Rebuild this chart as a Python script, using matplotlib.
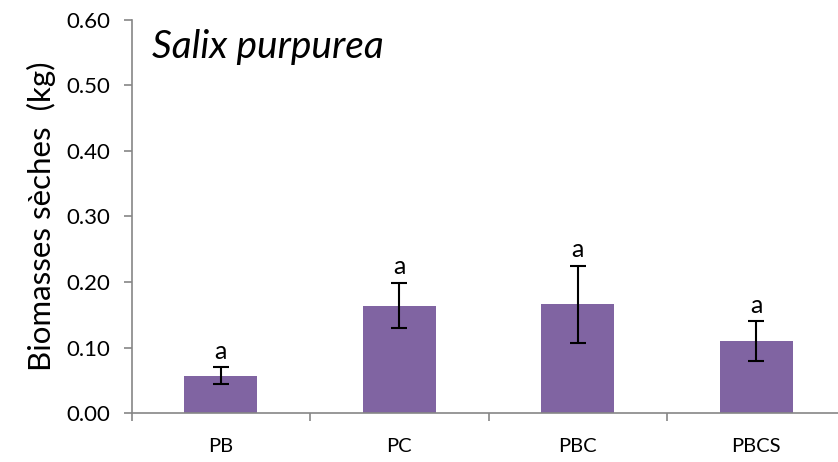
import numpy as np
import matplotlib
matplotlib.use("Agg")
import matplotlib.pyplot as plt

plt.rcParams['font.family'] = ['Lato', 'DejaVu Sans']

treatments = ["PB", "PC", "PBC", "PBCS"]
biomass = [0.057, 0.164, 0.166, 0.110]
biomass_err = [0.013, 0.035, 0.059, 0.030]
letters = ["a", "a", "a", "a"]

BAR_COLOR = "#8064A2"
AXIS_GRAY = "#868686"

fig = plt.figure(figsize=(8.38, 4.62), dpi=100)
ax = fig.add_axes([0.157, 0.106, 0.852, 0.851])

x = np.arange(len(treatments))
ax.bar(x, biomass, width=0.41, color=BAR_COLOR, zorder=2)
ax.errorbar(x, biomass, yerr=biomass_err, fmt="none", ecolor="black",
            elinewidth=1.5, capsize=6, capthick=1.5, zorder=3)

for xi, val, err, lab in zip(x, biomass, biomass_err, letters):
    ax.annotate(lab, (xi, val + err), xytext=(0, 3), textcoords="offset points",
                ha="center", va="bottom", fontsize=18)

ax.set_xlim(-0.5, 3.5)
ax.set_ylim(0, 0.60)
ax.set_yticks(np.arange(0, 0.61, 0.10))
ax.set_yticklabels([f"{v:.2f}" for v in np.arange(0, 0.61, 0.10)])
ax.set_xticks(x)
ax.set_xticklabels(treatments)
ax.set_xticks(np.arange(-0.5, 3.6, 1.0), minor=True)

ax.tick_params(axis="y", which="major", direction="out", length=6, width=1.2,
               color=AXIS_GRAY, labelsize=16, pad=9)
ax.tick_params(axis="x", which="major", length=0, labelsize=14.5, pad=18)
ax.tick_params(axis="x", which="minor", direction="out", length=6, width=1.2,
               color=AXIS_GRAY)

for side in ("top", "right"):
    ax.spines[side].set_visible(False)
for side in ("left", "bottom"):
    ax.spines[side].set_color(AXIS_GRAY)
    ax.spines[side].set_linewidth(1.2)

ax.set_ylabel("Biomasses sèches  (kg)", fontsize=22.5, labelpad=8)
ax.text(0.028, 0.93, "Salix purpurea", transform=ax.transAxes, fontsize=28,
        style="italic", ha="left", va="center")

fig.savefig("out.png", dpi=100)
